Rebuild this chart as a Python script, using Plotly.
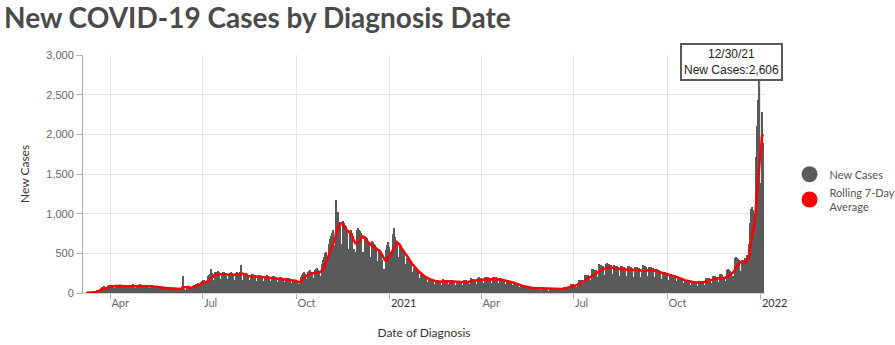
import pandas as pd
import plotly.graph_objects as go

# ---------------- data (daily new cases) ----------------
start_date = "2020-03-08"   # first day (a Sunday); one value per day, rows are Sun..Sat

cases_2020_spring = [
    0, 1, 2, 4, 6, 9, 7,            # Mar 8
    8, 14, 22, 30, 38, 44, 35,      # Mar 15
    34, 58, 70, 78, 84, 80, 62,     # Mar 22
    60, 92, 98, 104, 96, 94, 72,    # Mar 29
    64, 96, 102, 98, 95, 100, 74,   # Apr 5
    60, 92, 95, 90, 94, 88, 70,     # Apr 12
    58, 88, 84, 92, 110, 90, 66,    # Apr 19
    62, 96, 100, 94, 112, 98, 70,   # Apr 26
    60, 94, 98, 102, 96, 92, 68,    # May 3
    55, 86, 90, 88, 92, 84, 62,     # May 10
    48, 74, 76, 78, 72, 70, 52,     # May 17
    40, 52, 70, 68, 66, 64, 48,     # May 24
    36, 60, 62, 58, 60, 56, 40,     # May 31
    34, 54, 52, 56, 212, 50, 36,    # Jun 7
    40, 66, 72, 70, 76, 80, 58,     # Jun 14
]
cases_2020_summer = [
    62, 96, 104, 110, 118, 120, 90,     # Jun 21
    96, 140, 150, 158, 166, 150, 110,   # Jun 28
    120, 210, 230, 240, 300, 250, 170,  # Jul 5
    170, 260, 270, 250, 280, 262, 180,  # Jul 12
    168, 250, 262, 270, 258, 248, 172,  # Jul 19
    160, 240, 256, 262, 250, 244, 166,  # Jul 26
    170, 248, 260, 254, 270, 350, 160,  # Aug 2
    150, 236, 240, 248, 232, 230, 160,  # Aug 9
    146, 228, 236, 240, 230, 226, 156,  # Aug 16
    140, 218, 226, 230, 220, 214, 150,  # Aug 23
    136, 210, 220, 224, 214, 206, 146,  # Aug 30
    128, 190, 214, 210, 204, 200, 140,  # Sep 6
    120, 190, 196, 200, 192, 188, 134,  # Sep 13
    118, 184, 190, 194, 186, 180, 130,  # Sep 20
    110, 170, 160, 150, 140, 120, 90,   # Sep 27
]
cases_2020_winter = [
    110, 200, 230, 250, 260, 240, 180,      # Oct 4
    170, 270, 280, 290, 270, 262, 190,      # Oct 11
    180, 290, 300, 310, 290, 280, 200,      # Oct 18
    220, 360, 420, 460, 500, 520, 400,      # Oct 25
    400, 620, 680, 720, 760, 800, 600,      # Nov 1
    560, 1172, 980, 1025, 900, 880, 620,    # Nov 8
    600, 910, 880, 860, 840, 800, 560,      # Nov 15
    500, 780, 790, 760, 520, 560, 480,      # Nov 22
    520, 800, 820, 794, 780, 760, 520,      # Nov 29
    480, 720, 700, 690, 660, 640, 450,      # Dec 6
    420, 650, 640, 620, 600, 580, 400,      # Dec 13
    380, 560, 540, 520, 420, 300, 260,      # Dec 20
    300, 540, 600, 640, 580, 300, 520,      # Dec 27
    420, 740, 815, 700, 660, 620, 460,      # Jan 3 2021
    380, 600, 580, 540, 520, 500, 360,      # Jan 10
    280, 440, 420, 400, 380, 360, 260,      # Jan 17
    200, 320, 300, 290, 280, 270, 190,      # Jan 24
    140, 230, 220, 210, 205, 200, 140,      # Jan 31
]
cases_2021_spring = [
    110, 180, 175, 170, 165, 160, 110,  # Feb 7
    100, 165, 160, 155, 150, 150, 100,  # Feb 14
    105, 175, 170, 165, 160, 160, 110,  # Feb 21
    100, 170, 168, 162, 155, 150, 105,  # Feb 28
    90, 150, 148, 145, 142, 140, 95,    # Mar 7
    95, 165, 160, 158, 150, 150, 100,   # Mar 14
    110, 185, 182, 178, 176, 170, 115,  # Mar 21
    115, 195, 198, 190, 186, 180, 122,  # Mar 28
    118, 200, 198, 196, 194, 188, 126,  # Apr 4
    120, 205, 204, 198, 200, 190, 128,  # Apr 11
    110, 185, 182, 180, 176, 170, 115,  # Apr 18
    95, 165, 160, 156, 150, 145, 100,   # Apr 25
    70, 125, 120, 115, 110, 106, 74,    # May 2
    55, 95, 92, 88, 85, 82, 58,         # May 9
    42, 74, 72, 70, 68, 66, 46,         # May 16
    38, 66, 64, 62, 60, 58, 40,         # May 23
    30, 50, 64, 62, 60, 56, 38,         # May 30
    30, 56, 56, 54, 52, 50, 34,         # Jun 6
    32, 58, 60, 58, 56, 54, 36,         # Jun 13
    40, 76, 78, 76, 74, 72, 48,         # Jun 20
]
cases_2021_summer = [
    60, 110, 112, 108, 106, 104, 70,    # Jun 27
    80, 120, 165, 170, 168, 160, 110,   # Jul 4
    120, 230, 232, 228, 226, 220, 150,  # Jul 11
    160, 300, 300, 296, 290, 284, 190,  # Jul 18
    200, 360, 356, 350, 346, 340, 228,  # Jul 25
    210, 370, 372, 366, 362, 350, 234,  # Aug 1
    190, 350, 346, 340, 336, 330, 220,  # Aug 8
    185, 340, 338, 334, 328, 320, 210,  # Aug 15
    180, 336, 340, 332, 326, 318, 206,  # Aug 22
    176, 330, 334, 326, 320, 312, 200,  # Aug 29
    170, 250, 350, 344, 338, 330, 210,  # Sep 5
    172, 330, 334, 326, 320, 310, 200,  # Sep 12
    160, 300, 300, 292, 286, 280, 180,  # Sep 19
    145, 268, 266, 260, 256, 250, 162,  # Sep 26
    128, 238, 236, 232, 228, 222, 146,  # Oct 3
    106, 196, 194, 190, 188, 182, 120,  # Oct 10
    90, 168, 166, 162, 160, 156, 102,   # Oct 17
    82, 152, 150, 148, 146, 142, 94,    # Oct 24
]
cases_2021_winter = [
    85, 156, 154, 150, 148, 146, 96,            # Oct 31
    100, 190, 192, 188, 186, 180, 120,          # Nov 7
    115, 214, 216, 210, 206, 200, 134,          # Nov 14
    125, 236, 238, 232, 180, 190, 140,          # Nov 21
    150, 290, 300, 290, 280, 270, 180,          # Nov 28
    220, 440, 460, 440, 430, 420, 280,          # Dec 5
    260, 420, 410, 390, 440, 430, 480,          # Dec 12
    380, 620, 880, 1060, 1080, 1050, 700,       # Dec 19
    1000, 1720, 2100, 2430, 2606, 1385, 1300,   # Dec 26
    2285, 1890,                                 # Jan 2 2022
]

x_tick_vals = ["2020-04-01", "2020-07-01", "2020-10-01", "2021-01-01",
               "2021-04-01", "2021-07-01", "2021-10-01", "2022-01-01"]
x_tick_text = ["Apr", "Jul", "Oct", "<span style='color:#333'>2021</span>",
               "Apr", "Jul", "Oct", "<span style='color:#333'>2022</span>"]

series_names = ["New Cases", "Rolling 7-Day<br>Average"]
# -----------------------------------------------------------------------------

values = (cases_2020_spring + cases_2020_summer + cases_2020_winter +
          cases_2021_spring + cases_2021_summer + cases_2021_winter)
dates = pd.date_range(start_date, periods=len(values), freq="D")
df = pd.DataFrame({"date": dates, "cases": values})
df["avg7"] = df["cases"].rolling(7, min_periods=1).mean()

BAR = "#5a5a5a"
RED = "#ff0000"

fig = go.Figure()
fig.add_trace(go.Bar(x=df["date"], y=df["cases"], marker=dict(color=BAR, line=dict(width=0)),
                     showlegend=False, name=series_names[0]))
fig.add_trace(go.Scatter(x=df["date"], y=df["avg7"], mode="lines",
                         line=dict(color=RED, width=2.5), showlegend=False,
                         name=series_names[1]))
# legend proxies (round swatches)
for name, col in zip(series_names, [BAR, RED]):
    fig.add_trace(go.Scatter(x=[None], y=[None], mode="markers", name=name,
                             marker=dict(color=col, size=16, symbol="circle")))

# tooltip-like callout at the peak day
peak = df.loc[df["cases"].idxmax()]
label = f"{peak['date'].month}/{peak['date'].day}/{peak['date'].strftime('%y')}<br>New Cases:{int(peak['cases']):,}"
fig.add_annotation(x=peak["date"], y=peak["cases"], text=label, showarrow=False,
                   xanchor="center", yanchor="bottom", xshift=-27, yshift=5,
                   bgcolor="white", bordercolor="#5a5a5a", borderwidth=2, borderpad=2,
                   font=dict(family="Liberation Sans, Arial", size=12, color="#222"))
fig.add_annotation(x=peak["date"], y=peak["cases"], text="", showarrow=True,
                   ax=0, ay=-7, arrowhead=0, arrowwidth=2, arrowcolor="#5a5a5a")

fig.update_layout(
    width=895, height=345,
    margin=dict(l=83, r=130, t=55, b=52, autoexpand=False),
    paper_bgcolor="white", plot_bgcolor="white",
    bargap=0,
    title=dict(text="New COVID-19 Cases by Diagnosis Date", x=4 / 895, xanchor="left",
               xref="container", y=1 - 18 / 345, yanchor="middle", yref="container",
               font=dict(family="Lato", size=28, color="#4a4a4a", weight="bold")),
    legend=dict(x=1.036, xanchor="left", y=0.56, yanchor="top",
                font=dict(family="Lato", size=11, color="#555"),
                itemsizing="trace", tracegroupgap=8, bgcolor="rgba(0,0,0,0)"),
    hovermode=False,
)
fig.update_xaxes(
    type="date", range=["2020-03-05", "2022-01-05"],
    tickvals=x_tick_vals, ticktext=x_tick_text,
    ticklabelposition="outside right",
    ticks="outside", ticklen=5, tickcolor="#b0b0b0",
    showgrid=True, gridcolor="#e6e6e6", gridwidth=1,
    showline=True, linecolor="#d0d0d0",
    tickfont=dict(family="Lato", size=11, color="#666"),
    title=dict(text="Date of Diagnosis", standoff=20,
               font=dict(family="Lato", size=12, color="#333")),
)
fig.update_yaxes(
    range=[0, 3000], dtick=500, tickformat=",",
    ticks="outside", ticklen=6, tickcolor="#b0b0b0",
    showgrid=True, gridcolor="#e6e6e6", gridwidth=1,
    showline=True, linecolor="#aaaaaa", zeroline=False,
    tickfont=dict(family="Liberation Sans, Arial", size=11, color="#666"),
    title=dict(text="New Cases", standoff=14,
               font=dict(family="Lato", size=12, color="#333")),
)

fig.write_html("out.html")
